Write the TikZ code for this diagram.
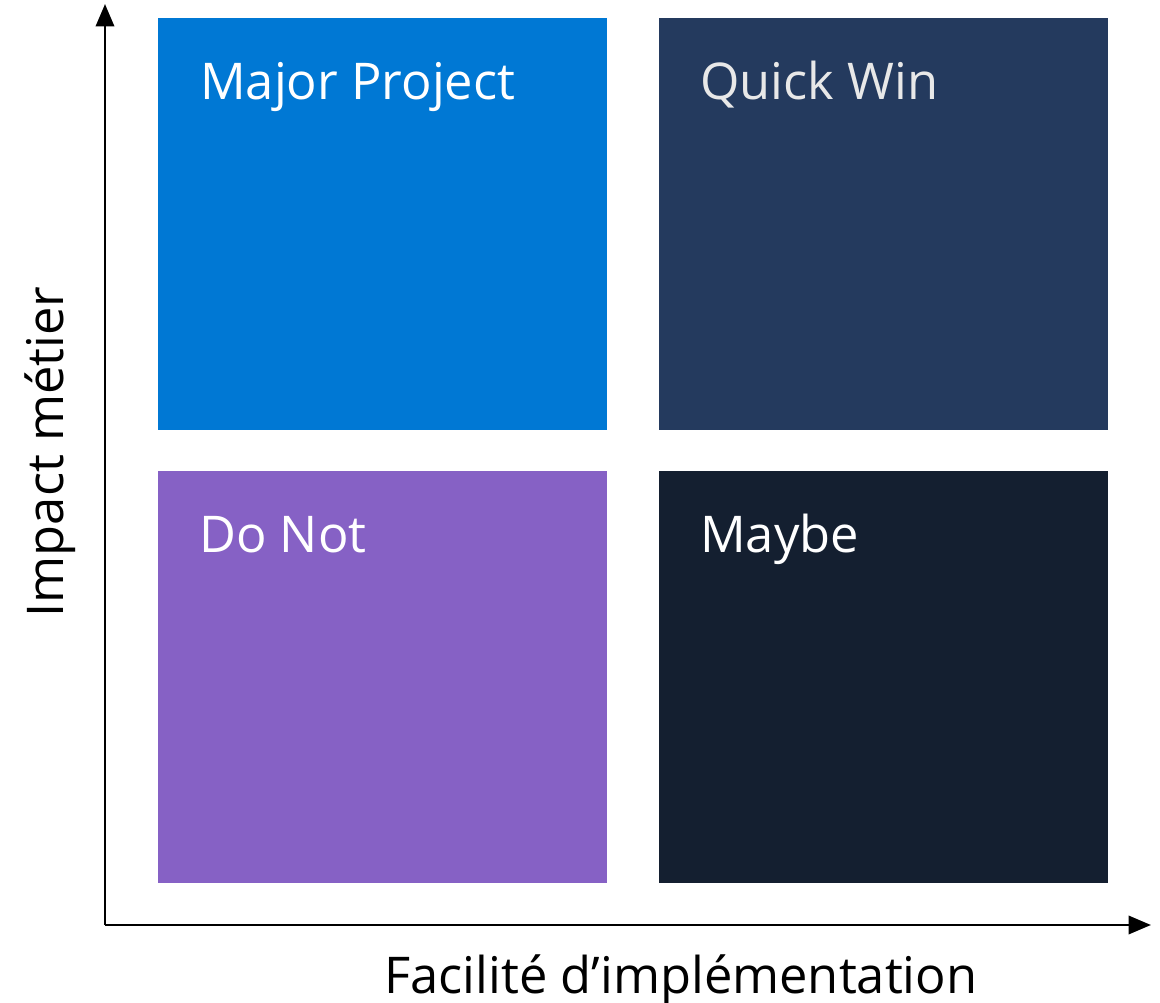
\documentclass[tikz,border=0pt]{standalone}
\usepackage{fontspec}
\setmainfont{Open Sans}
\usetikzlibrary{positioning,arrows.meta}

\definecolor{majorblue}{RGB}{0,120,212}
\definecolor{quicknavy}{RGB}{36,58,94}
\definecolor{donotpurple}{RGB}{134,97,197}
\definecolor{maybedark}{RGB}{20,31,48}
\definecolor{quickgray}{RGB}{232,232,232}

\tikzset{
  quad/.style={rectangle, inner sep=0pt, anchor=north west,
    minimum width=11.225cm, minimum height=10.3cm},
  qlabel/.style={anchor=base west, inner sep=0pt, text=white,
    font=\fontsize{36}{40}\selectfont},
  axislabel/.style={inner sep=0pt, font=\fontsize{36}{40}\selectfont},
  axis/.style={line width=2.1pt, -{Triangle[length=16pt,width=13pt]}}
}

\begin{document}
\begin{tikzpicture}[x=0.025cm, y=-0.025cm]
  \useasboundingbox (0,0) rectangle (1160,1003);

  % the four quadrants
  \node [quad, fill=majorblue](major) at (158,18) {};
  \node [quad, fill=quicknavy](quick) at (659,18) {};
  \node [quad, fill=donotpurple](donot) at (158,471) {};
  \node [quad, fill=maybedark](maybe) at (659,471) {};

  \node [qlabel](majortxt) at (200,100) {Major Project};
  \node [qlabel, text=quickgray](quicktxt) at (700,100) {Quick Win};
  \node [qlabel](donottxt) at (199,553) {Do Not};
  \node [qlabel](maybetxt) at (700,553) {Maybe};

  % axes
  \coordinate (origin) at (105,925);
  \coordinate (ytip) at (105,4);
  \coordinate (xtip) at (1151,925);
  \draw [axis] (origin) -- (ytip);
  \draw [axis] (origin) -- (xtip);

  \node [axislabel, anchor=base](xlabel) at (681,993) {Facilité d’implémentation};
  \node [axislabel, anchor=base, rotate=90](ylabel) at (63,452) {Impact métier};
\end{tikzpicture}
\end{document}
